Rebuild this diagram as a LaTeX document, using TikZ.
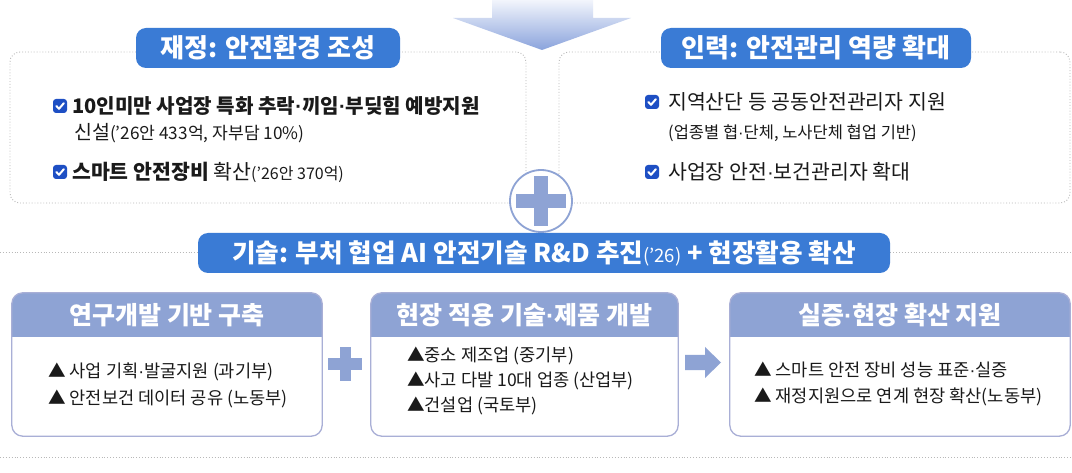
\documentclass[tikz,border=0pt]{standalone}
\usepackage{fontspec}
\setmainfont{Noto Sans CJK KR}
\newfontfamily\dotfont{Liberation Sans}
\newcommand{\md}{{\dotfont ·}}
\usetikzlibrary{calc}
\definecolor{pillblue}{HTML}{3A7BD5}
\definecolor{chkblue}{HTML}{1E4FC4}
\definecolor{peri}{HTML}{8EA3D4}
\definecolor{bborder}{HTML}{A9AFD6}
\definecolor{dotgray}{HTML}{B8B8B8}
\definecolor{txt}{HTML}{1A1A1A}
\definecolor{arrtop}{HTML}{F2F5FC}
\definecolor{arrbot}{HTML}{8AA3DC}
\newcommand{\setfs}[1]{\fontsize{#1}{#1}\selectfont}
\tikzset{
  dotbox/.style={draw=dotgray, dotted, line width=0.9pt, rounded corners=10pt, inner sep=0pt},
  dotline/.style={draw=dotgray, dotted, line width=0.9pt},
  pill/.style={fill=pillblue, text=white, rounded corners=10pt, font=\bfseries\setfs{26}, inner sep=0pt, minimum height=40pt},
  item/.style={anchor=west, inner sep=0pt, text=txt},
  bbox/.style={fill=white, inner sep=0pt, minimum height=143pt},
  bborderline/.style={draw=bborder, line width=1.3pt, rounded corners=11pt},
  hdrtext/.style={text=white, font=\bfseries\setfs{25}, inner sep=0pt},
  btext/.style={anchor=west, inner sep=0pt, text=txt, font=\setfs{17.6}},
  chk/.pic={
    \fill[chkblue, rounded corners=3pt] (-7,-7) rectangle (7,7);
    \draw[white, line width=2pt, line cap=round, line join=round] (-3.6,0) -- (-1,2.8) -- (3.8,-2.8);
  }
}
\begin{document}
\begin{tikzpicture}[x=1pt,y=-1pt]
\useasboundingbox (0,0) rectangle (1072,473);
\fill[white] (0,0) rectangle (1072,473);

% top arrow
\shade[top color=arrtop, bottom color=arrbot] (492,0) -- (593,0) -- (593,18) -- (631,18) -- (542,50) -- (453,18) -- (492,18) -- cycle;

% top boxes
\node[dotbox, minimum width=516pt, minimum height=151pt] (boxL) at (268,127.5) {};
\node[dotbox, minimum width=511pt, minimum height=151pt] (boxR) at (814.5,127.5) {};
\node[pill, minimum width=264pt] (pillL) at (268,48) {재정: 안전환경 조성};
\node[pill, minimum width=310pt] (pillR) at (816,48) {인력: 안전관리 역량 확대};

% left items
\pic (c1) at (60,106) {chk};
\node[item, font=\bfseries\setfs{20.1}] (l1) at (72,106) {10인미만 사업장 특화 추락\md 끼임\md 부딪힘 예방지원};
\node[item] (l2) at (74,133) {\setfs{19.5}신설\setfs{17.2}(’26안 433억, 자부담 10\%)};
\pic (c2) at (60,172) {chk};
\node[item] (l3) at (72,172) {\setfs{20.5}{\bfseries 스마트 안전장비} 확산\setfs{16}(’26안 370억)};

% right items
\pic (c3) at (652,102) {chk};
\node[item, font=\setfs{20.5}] (r1) at (668,102) {지역산단 등 공동안전관리자 지원};
\node[item, font=\setfs{16.5}] (r2) at (668,133) {(업종별 협\md 단체, 노사단체 협업 기반)};
\pic (c4) at (652,172) {chk};
\node[item, font=\setfs{20.5}] (r3) at (668,172) {사업장 안전\md 보건관리자 확대};

% horizontal dotted lines
\coordinate (hl1) at (0,252);
\coordinate (hr1) at (1072,252);
\draw[dotline] (hl1) -- (hr1);
\coordinate (hl2) at (0,457);
\coordinate (hr2) at (1072,457);
\draw[dotline] (hl2) -- (hr2);

% plus circle
\node[circle, draw=peri, line width=1.8pt, fill=white, minimum size=62pt, inner sep=0pt] (pc) at (541,201) {};
\fill[peri] (534,176) rectangle (548,226);
\fill[peri] (516,194) rectangle (566,208);

% banner
\node[pill, minimum width=692pt, font=\bfseries\setfs{25.6}] (banner) at (544,253) {기술: 부처 협업 AI 안전기술 R\&D 추진{\mdseries\setfs{18.5}(’26)} + 현장활용 확산};

% bottom boxes
\node[bbox, minimum width=310pt] (b1) at (167,364.5) {};
\node[bbox, minimum width=307pt] (b2) at (524.5,364.5) {};
\node[bbox, minimum width=340pt] (b3) at (900,364.5) {};
\foreach \b in {b1,b2,b3}{
  \fill[peri] ([yshift=-44pt]\b.north west) [rounded corners=11pt] -- (\b.north west) -- (\b.north east) [sharp corners] -- ([yshift=-44pt]\b.north east) -- cycle;
  \draw[bborderline] (\b.north west) rectangle (\b.south east);
}
\node[hdrtext] (h1) at (167,315) {연구개발 기반 구축};
\node[hdrtext] (h2) at (524.5,315) {현장 적용 기술\md 제품 개발};
\node[hdrtext] (h3) at (900,315) {실증\md 현장 확산 지원};

\node[btext] (t11) at (48,372) {▲ 사업 기획\md 발굴지원 (과기부)};
\node[btext] (t12) at (48,399) {▲ 안전보건 데이터 공유 (노동부)};
\node[btext] (t21) at (407,356) {▲중소 제조업 (중기부)};
\node[btext] (t22) at (407,381) {▲사고 다발 10대 업종 (산업부)};
\node[btext] (t23) at (407,406) {▲건설업 (국토부)};
\node[btext] (t31) at (754,370) {▲ 스마트 안전 장비 성능 표준\md 실증};
\node[btext] (t32) at (754,397) {▲ 재정지원으로 연계 현장 확산(노동부)};

% small plus and arrow
\fill[peri] (328,358.5) rectangle (362,369.5);
\fill[peri] (339.5,347) rectangle (350.5,381);
\fill[peri] (685,355) -- (705,355) -- (705,347) -- (721,362.5) -- (705,378) -- (705,370) -- (685,370) -- cycle;
\end{tikzpicture}
\end{document}
